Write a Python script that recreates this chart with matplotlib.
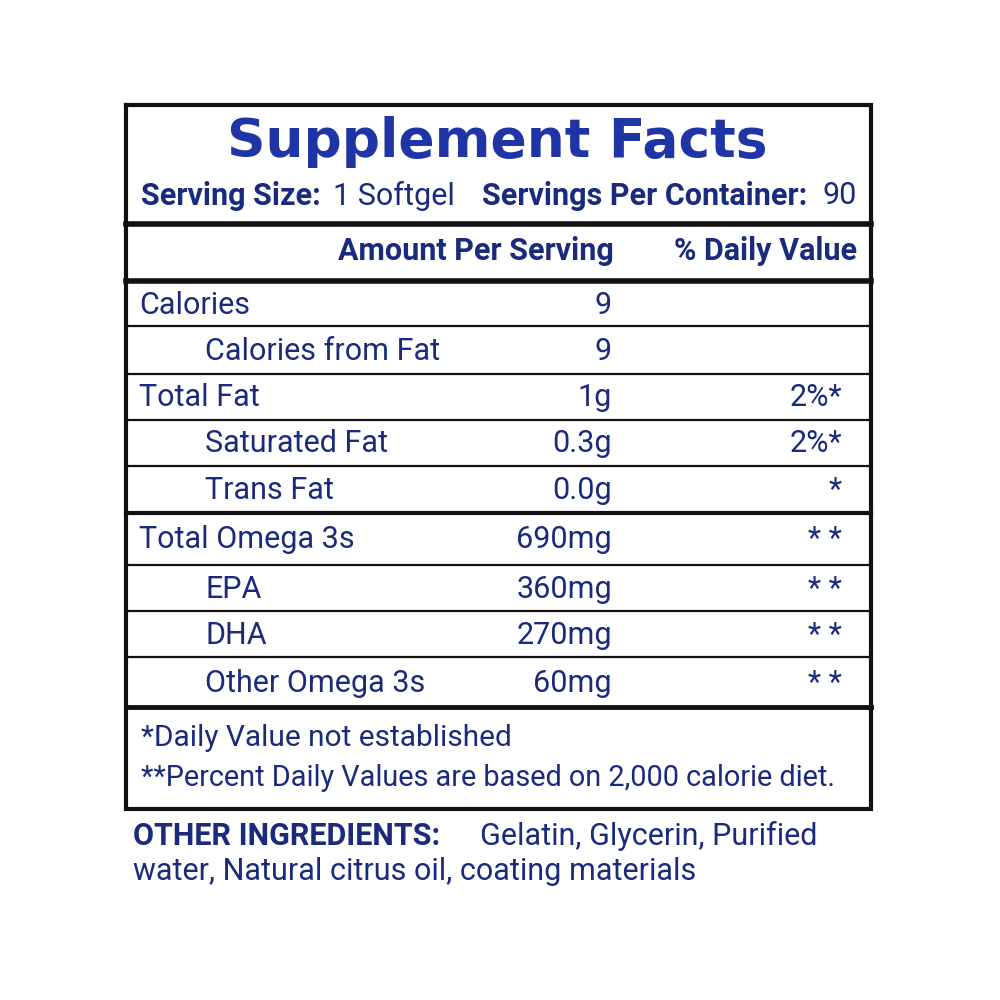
import matplotlib
matplotlib.use("Agg")
import matplotlib.pyplot as plt

title = "Supplement Facts"
serving_size = "1 Softgel"
servings = "90"
nutrients = ["Calories", "Calories from Fat", "Total Fat", "Saturated Fat", "Trans Fat",
             "Total Omega 3s", "EPA", "DHA", "Other Omega 3s"]
amounts = ["9", "9", "1g", "0.3g", "0.0g", "690mg", "360mg", "270mg", "60mg"]
daily_values = ["", "", "2%*", "2%*", "*", "**", "**", "**", "**"]
indented = [False, True, False, True, True, False, True, True, True]
row_bounds = [283, 326, 374, 420, 466, 513, 565, 611, 657, 707]
thick_after = [4]
footnotes = ["*Daily Value not established", "**Percent Daily Values are based on 2,000 calorie diet."]

navy = "#1a2a7c"
blue = "#1f35a6"
F = "Roboto"
FS = 22

fig = plt.figure(figsize=(10, 10), dpi=100)
ax = fig.add_axes([0, 0, 1, 1])
ax.set_xlim(0, 1000); ax.set_ylim(1000, 0); ax.axis("off")

L, R = 126, 871
ax.plot([L, R, R, L, L], [105, 105, 809, 809, 105], color="#111", lw=3, solid_joinstyle="miter")
ax.text(497, 142, title, ha="center", va="center", fontsize=38.5, fontweight="heavy", color=blue, family="DejaVu Sans")
ax.text(141, 196, "Serving Size:", ha="left", va="center", fontsize=FS, fontweight="bold", color=navy, family=F)
ax.text(333, 196, serving_size, ha="left", va="center", fontsize=FS, color=navy, family=F)
ax.text(482, 196, "Servings Per Container:", ha="left", va="center", fontsize=FS, fontweight="bold", color=navy, family=F)
ax.text(857, 196, servings, ha="right", va="center", fontsize=FS, color=navy, family=F)
ax.plot([L, R], [224, 224], color="#111", lw=4)
ax.text(614, 251, "Amount Per Serving", ha="right", va="center", fontsize=FS, fontweight="bold", color=navy, family=F)
ax.text(857, 251, "% Daily Value", ha="right", va="center", fontsize=FS, fontweight="bold", color=navy, family=F)
ax.plot([L, R], [281, 281], color="#111", lw=4)

for i, (n, a, d, ind) in enumerate(zip(nutrients, amounts, daily_values, indented)):
    y0, y1 = row_bounds[i], row_bounds[i + 1]
    yc = (y0 + y1) / 2 + 1
    ax.text(205 if ind else 139, yc, n, ha="left", va="center", fontsize=FS, color=navy, family=F)
    ax.text(612, yc, a, ha="right", va="center", fontsize=FS, color=navy, family=F)
    if d:
        ax.text(842, yc, d.replace("**", "* *"), ha="right", va="center", fontsize=FS, color=navy, family=F)
    if i < len(nutrients) - 1:
        ax.plot([L, R], [y1, y1], color="#111", lw=3 if i in thick_after else 1.6)
ax.plot([L, R], [row_bounds[-1], row_bounds[-1]], color="#111", lw=3.5)

ax.text(141, 738, footnotes[0], ha="left", va="center", fontsize=21.5, color=navy, family=F)
ax.text(141, 778, footnotes[1].replace("**", "**", 1), ha="left", va="center", fontsize=20.8, color=navy, family=F)

ax.text(133, 836, "OTHER INGREDIENTS:", ha="left", va="center", fontsize=FS, fontweight="bold", color=navy, family=F)
ax.text(480, 836, "Gelatin, Glycerin, Purified", ha="left", va="center", fontsize=FS, color=navy, family=F)
ax.text(133, 871, "water, Natural citrus oil, coating materials", ha="left", va="center", fontsize=FS, color=navy, family=F)

fig.savefig("out.png", dpi=100, facecolor="white")
